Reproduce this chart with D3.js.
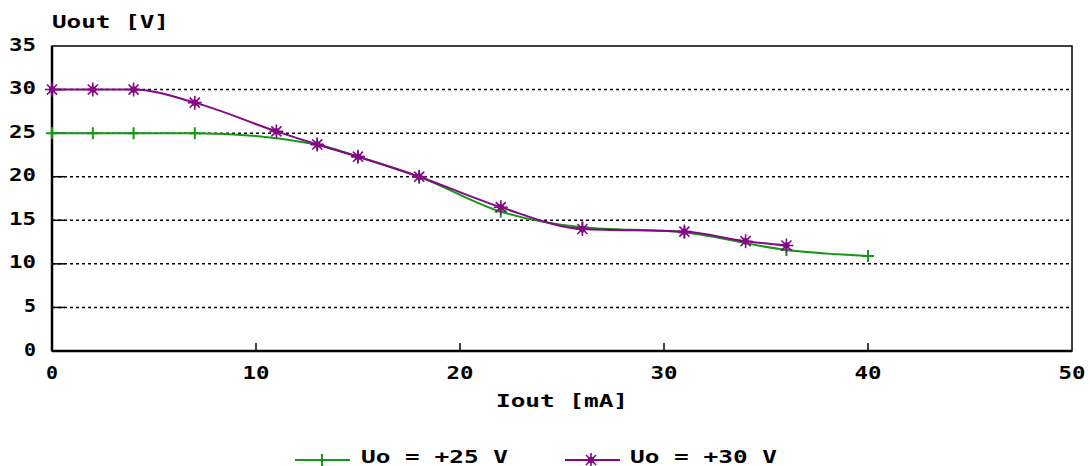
<!DOCTYPE html>
<html>
<head>
<meta charset="utf-8">
<script src="https://cdn.jsdelivr.net/npm/d3@7"></script>
<style>
  body { margin: 0; background: #fff; }
  text { font-family: "DejaVu Sans Mono", monospace; font-weight: bold; font-size: 18px; fill: #000; }
</style>
</head>
<body>
<svg id="chart" width="1090" height="466"></svg>
<script>
const X_TICKS = [0, 10, 20, 30, 40, 50];
const Y_TICKS = [0, 5, 10, 15, 20, 25, 30, 35];

const iout25 = [0, 2, 4, 7, 13, 15, 18, 22, 26, 31, 36, 40];
const uout25 = [25, 25, 25, 25, 23.7, 22.3, 20, 16, 14.2, 13.6, 11.6, 10.9];

const iout30 = [0, 2, 4, 7, 11, 13, 15, 18, 22, 26, 31, 34, 36];
const uout30 = [30, 30, 30, 28.5, 25.2, 23.7, 22.3, 20, 16.5, 14, 13.7, 12.6, 12.1];

const seriesNames = ["Uo = +25 V", "Uo = +30 V"];
const GREEN = "#169816";
const PURPLE = "#840884";
const CHAR_W = 15; // wide bitmap-like font advance

const margin = {left: 52, right: 18, top: 46, bottom: 115};
const WIDTH = 1090, HEIGHT = 466;

var svg = d3.select("#chart");

var x = d3.scaleLinear().domain([0, 50]).range([margin.left, WIDTH - margin.right]);
var y = d3.scaleLinear().domain([0, 35]).range([HEIGHT - margin.bottom, margin.top]);

// stretch text to the wide fixed advance
function stretch(textSel) {
    textSel.each(function() {
        var t = d3.select(this);
        var n = t.text().length;
        t.attr("textLength", n * CHAR_W - 3).attr("lengthAdjust", "spacingAndGlyphs");
    });
}

// grid lines (dashed) with short solid tick at the left
svg.append("g").selectAll("line")
    .data(Y_TICKS.filter(d => d > 0 && d < 35))
    .enter().append("line")
    .attr("x1", x(0)).attr("x2", x(50))
    .attr("y1", d => y(d)).attr("y2", d => y(d))
    .attr("stroke", "#000").attr("stroke-width", 1.5)
    .attr("stroke-dasharray", "3,3");

svg.append("g").selectAll("line")
    .data(Y_TICKS.filter(d => d > 0 && d < 35))
    .enter().append("line")
    .attr("x1", x(0)).attr("x2", x(0) + 13)
    .attr("y1", d => y(d)).attr("y2", d => y(d))
    .attr("stroke", "#000").attr("stroke-width", 1.5);

// x ticks inside
svg.append("g").selectAll("line")
    .data(X_TICKS.filter(d => d > 0 && d < 50))
    .enter().append("line")
    .attr("x1", d => x(d)).attr("x2", d => x(d))
    .attr("y1", y(0)).attr("y2", y(0) - 8)
    .attr("stroke", "#000").attr("stroke-width", 1.5);

// frame
svg.append("rect")
    .attr("x", x(0)).attr("y", y(35))
    .attr("width", x(50) - x(0)).attr("height", y(0) - y(35))
    .attr("fill", "none").attr("stroke", "#000").attr("stroke-width", 1.5);
svg.append("line")
    .attr("x1", x(0)).attr("x2", x(0)).attr("y1", y(35)).attr("y2", y(0))
    .attr("stroke", "#000").attr("stroke-width", 2.5);
svg.append("line")
    .attr("x1", x(0)).attr("x2", x(50)).attr("y1", y(0)).attr("y2", y(0))
    .attr("stroke", "#000").attr("stroke-width", 2.5);

// tick labels
svg.append("g").selectAll("text")
    .data(Y_TICKS)
    .enter().append("text")
    .attr("x", 36).attr("y", d => y(d) + 4.5)
    .attr("text-anchor", "end")
    .text(d => d)
    .call(stretch);

svg.append("g").selectAll("text")
    .data(X_TICKS)
    .enter().append("text")
    .attr("x", d => x(d)).attr("y", y(0) + 28)
    .attr("text-anchor", "middle")
    .text(d => d)
    .call(stretch);

svg.append("text").attr("x", x(0)).attr("y", 28).text("Uout [V]").call(stretch);
svg.append("text").attr("x", (x(0) + x(50)) / 2).attr("y", 407)
    .attr("text-anchor", "middle").text("Iout [mA]").call(stretch);

// markers
function plusPath(s) {
    return "M" + (-s) + ",0H" + s + "M0," + (-s) + "V" + s;
}
function starPath(s) {
    var d = s * 0.72;
    return "M" + (-s) + ",0H" + s + "M0," + (-s) + "V" + s +
        "M" + (-d) + "," + (-d) + "L" + d + "," + d +
        "M" + (-d) + "," + d + "L" + d + "," + (-d);
}

var line = d3.line()
    .x(d => x(d[0])).y(d => y(d[1]))
    .curve(d3.curveMonotoneX);

var data25 = iout25.map((v, i) => [v, uout25[i]]);
var data30 = iout30.map((v, i) => [v, uout30[i]]);

svg.append("path").datum(data25)
    .attr("d", line).attr("fill", "none")
    .attr("stroke", GREEN).attr("stroke-width", 2);
svg.append("g").selectAll("path")
    .data(data25)
    .enter().append("path")
    .attr("transform", d => "translate(" + x(d[0]) + "," + y(d[1]) + ")")
    .attr("d", plusPath(6))
    .attr("stroke", GREEN).attr("stroke-width", 2).attr("fill", "none");

svg.append("path").datum(data30)
    .attr("d", line).attr("fill", "none")
    .attr("stroke", PURPLE).attr("stroke-width", 2);
var stars = svg.append("g").selectAll("g")
    .data(data30)
    .enter().append("g")
    .attr("transform", d => "translate(" + x(d[0]) + "," + y(d[1]) + ")");
stars.append("path").attr("d", starPath(7))
    .attr("stroke", PURPLE).attr("stroke-width", 1.6).attr("fill", "none");
stars.append("circle").attr("r", 3.2).attr("fill", PURPLE);

// legend
var legend = svg.append("g");
legend.append("line").attr("x1", 295).attr("x2", 350).attr("y1", 460).attr("y2", 460)
    .attr("stroke", GREEN).attr("stroke-width", 2);
legend.append("path").attr("transform", "translate(322,460)").attr("d", plusPath(6))
    .attr("stroke", GREEN).attr("stroke-width", 2).attr("fill", "none");
legend.append("text").attr("x", 361).attr("y", 463).text(seriesNames[0]).call(stretch);

legend.append("line").attr("x1", 565).attr("x2", 620).attr("y1", 460).attr("y2", 460)
    .attr("stroke", PURPLE).attr("stroke-width", 2);
legend.append("path").attr("transform", "translate(591,460)").attr("d", starPath(7))
    .attr("stroke", PURPLE).attr("stroke-width", 1.6).attr("fill", "none");
legend.append("circle").attr("cx", 591).attr("cy", 460).attr("r", 3.2).attr("fill", PURPLE);
legend.append("text").attr("x", 630).attr("y", 463).text(seriesNames[1]).call(stretch);
</script>
</body>
</html>
